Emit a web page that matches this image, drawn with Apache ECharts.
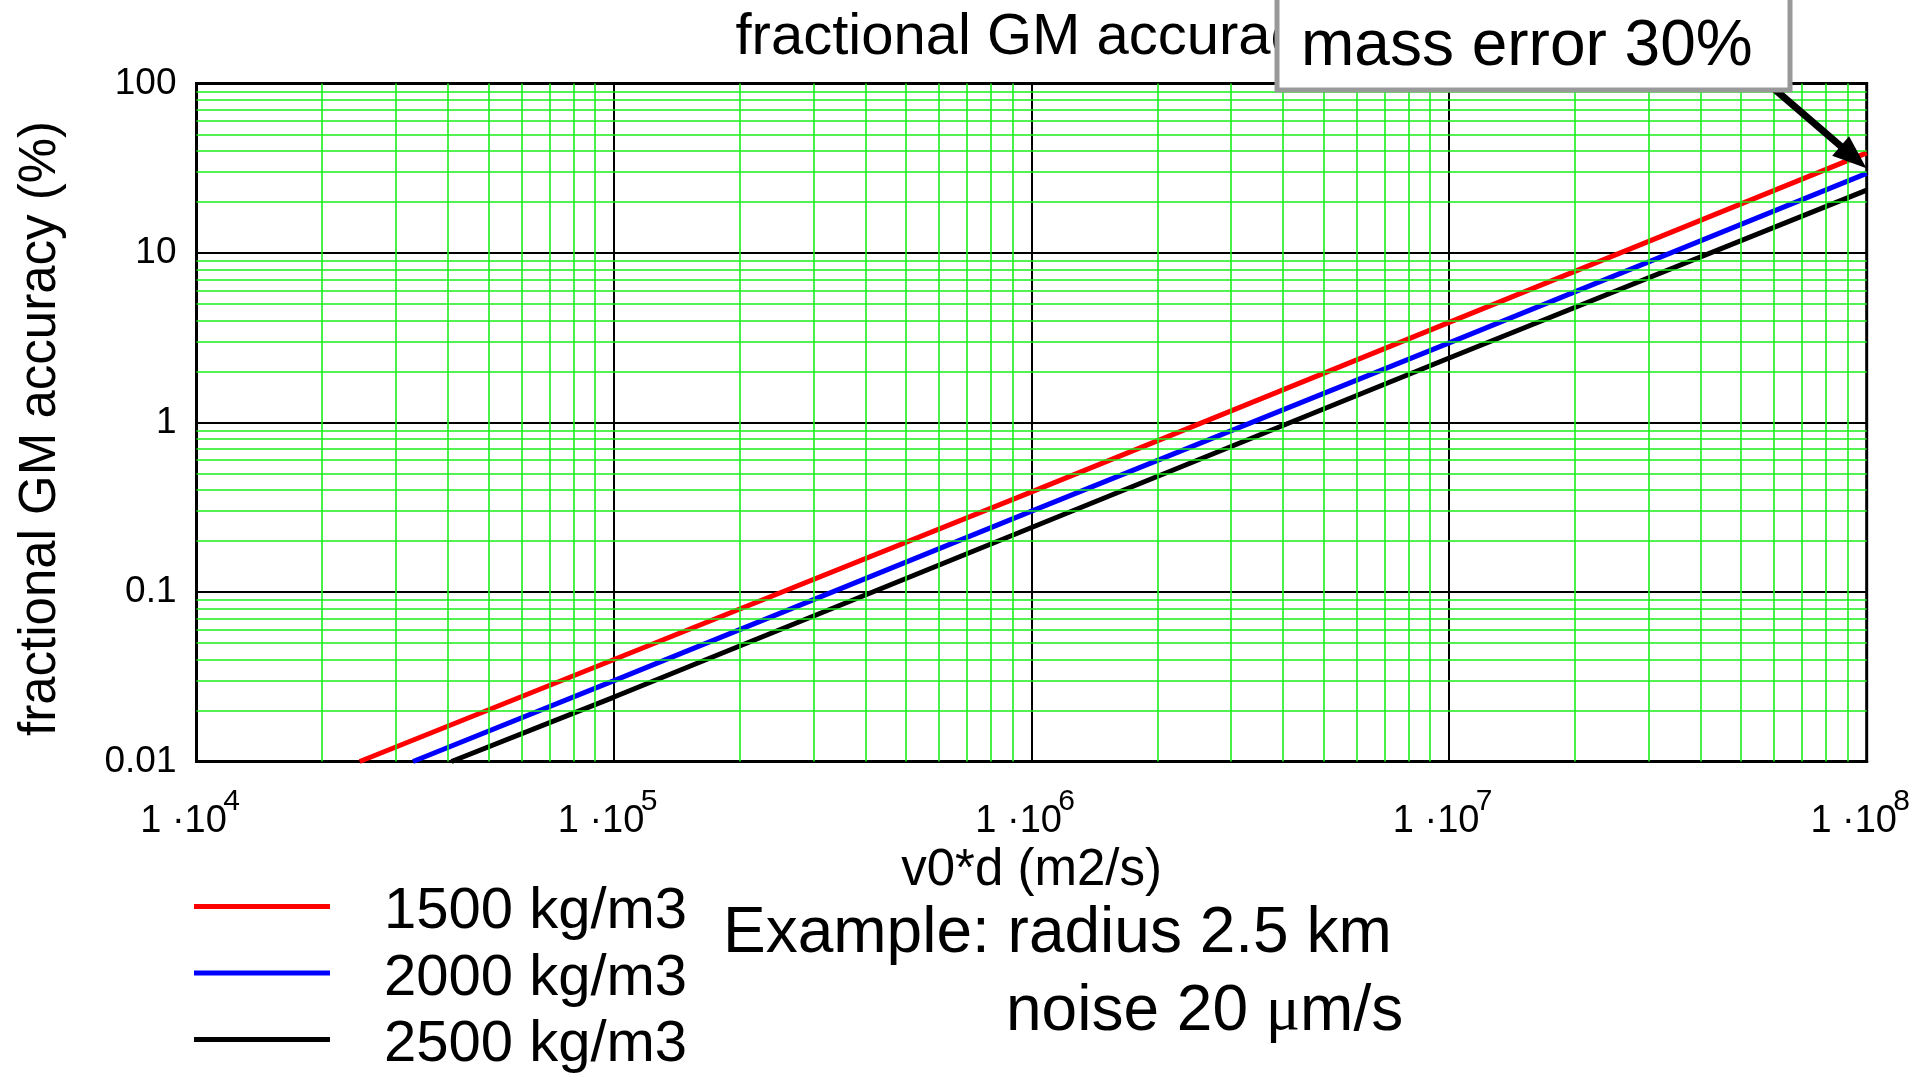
<!DOCTYPE html>
<html>
<head>
<meta charset="utf-8">
<title>fractional GM accuracy</title>
<script src="https://cdn.jsdelivr.net/npm/echarts@6/dist/echarts.min.js"></script>
<style>
html, body { margin: 0; padding: 0; background: #fff; }
#chart { width: 1926px; height: 1073px; }
</style>
</head>
<body>
<div id="chart"></div>
<script>
// curves: [v0*d (m2/s), fractional GM accuracy (%)]
var densityNames = ['1500 kg/m3', '2000 kg/m3', '2500 kg/m3'];
var lineColors = ['#ff0000', '#0000ff', '#000000'];
var red1500 = [[2.46e4, 0.01], [1e5, 0.04], [1e6, 0.39], [1e7, 3.9], [1e8, 39]];
var blue2000 = [[3.3e4, 0.01], [1e5, 0.03], [1e6, 0.3], [1e7, 2.95], [1e8, 29.5]];
var black2500 = [[4.08e4, 0.01], [1e5, 0.024], [1e6, 0.24], [1e7, 2.4], [1e8, 23.5]];

var xExponents = [4, 5, 6, 7, 8];
var yTickLabels = ['0.01', '0.1', '1', '10', '100'];
var minorSteps = [2, 3, 4, 5, 6, 7, 8, 9];

// "mass error 30%" callout arrow, data coords
var arrowFrom = [5.8e7, 100];
var arrowTo = [9.3e7, 36.8];

var font = 'Liberation Sans, Arial, Helvetica, sans-serif';

// green minor grid at 2..9 of every decade
var xMinor = [], yMinor = [];
for (var d = 4; d < 8; d++) {
  minorSteps.forEach(function (m) { xMinor.push(m * Math.pow(10, d)); });
}
for (var e = -2; e < 2; e++) {
  minorSteps.forEach(function (m) { yMinor.push(+(m * Math.pow(10, e)).toPrecision(3)); });
}
var minorLines = xMinor.map(function (v) { return { xAxis: v }; })
  .concat(yMinor.map(function (v) { return { yAxis: v }; }));

var chart = echarts.init(document.getElementById('chart'));

var curves = [red1500, blue2000, black2500].map(function (pts, i) {
  return {
    name: densityNames[i],
    type: 'line',
    data: pts,
    showSymbol: false,
    z: 3,
    color: lineColors[i],
    lineStyle: { color: lineColors[i], width: 5 },
    emphasis: { disabled: true }
  };
});

// one legend per row so nothing wraps at the bottom edge;
// the icon bar sits at the top of a taller box so the text lands a bit lower
var legendTops = [883, 949.5, 1016];
var legends = densityNames.map(function (name, i) {
  return {
    orient: 'vertical',
    left: 194,
    top: legendTops[i],
    padding: 0,
    itemWidth: 136,
    itemHeight: 16,
    icon: 'path://M0,0H136V5H0Z M0,16H136',
    itemStyle: { borderWidth: 0 },
    selectedMode: false,
    data: [name],
    textStyle: { fontSize: 58, fontFamily: font, color: '#000', lineHeight: 57, padding: [0, 0, 0, 49] }
  };
});

var logX = { type: 'log', logBase: 10, min: 1e4, max: 1e8, position: 'bottom' };

var option = {
  animation: false,
  backgroundColor: '#fff',
  grid: {
    left: 196.5, right: 58, top: 83.5, bottom: 311.5,
    show: true, borderColor: '#000', borderWidth: 3, backgroundColor: 'transparent'
  },
  legend: legends,
  xAxis: [
    Object.assign({}, logX, {
      axisLine: { show: true, lineStyle: { color: '#000', width: 3 } },
      axisTick: { show: false },
      splitLine: { show: true, lineStyle: { color: '#000', width: 2 } },
      axisLabel: {
        margin: 41,
        fontSize: 38,
        lineHeight: 38,
        fontFamily: font,
        color: '#000',
        padding: [0, 26, 0, 0],
        formatter: function () { return '1 \u00b710'; }
      },
      name: 'v0*d (m2/s)',
      nameLocation: 'middle',
      nameGap: 71,
      nameTextStyle: { fontSize: 51, fontFamily: font, color: '#000' }
    }),
    // exponents of the tick labels, raised and set right of the "1 ·10"
    Object.assign({}, logX, {
      axisLine: { show: false },
      axisTick: { show: false },
      splitLine: { show: false },
      axisLabel: {
        margin: 25,
        fontSize: 30,
        lineHeight: 30,
        fontFamily: font,
        color: '#000',
        padding: [0, 0, 0, 70],
        formatter: function (v) { return String(xExponents[Math.round(Math.log10(v)) - 4]); }
      }
    })
  ],
  yAxis: {
    type: 'log',
    logBase: 10,
    min: 0.01,
    max: 100,
    axisLine: { show: true, lineStyle: { color: '#000', width: 3 } },
    axisTick: { show: false },
    splitLine: { show: true, lineStyle: { color: '#000', width: 2 } },
    axisLabel: {
      fontSize: 37,
      fontFamily: font,
      color: '#000',
      margin: 20,
      padding: [18, 0, 0, 0],
      formatter: function (v) { return yTickLabels[Math.round(Math.log10(v)) + 2]; }
    },
    name: 'fractional GM accuracy (%)',
    nameLocation: 'middle',
    nameGap: 130,
    nameTextStyle: { fontSize: 51, fontFamily: font, color: '#000', padding: [0, 12, 0, 0] }
  },
  series: [
    {
      name: 'minor grid',
      type: 'line',
      data: [],
      z: 1,
      silent: true,
      markLine: {
        silent: true,
        symbol: 'none',
        label: { show: false },
        emphasis: { disabled: true },
        lineStyle: { color: '#1aee1a', width: 1.6, type: 'solid' },
        data: minorLines
      }
    }
  ].concat(curves).concat([
    {
      name: 'arrow',
      type: 'line',
      data: [],
      z: 5,
      silent: true,
      markLine: {
        silent: true,
        label: { show: false },
        emphasis: { disabled: true },
        lineStyle: { color: '#000', width: 7, type: 'solid' },
        data: [[
          { coord: arrowFrom, symbol: 'none' },
          { coord: arrowTo, symbol: 'triangle', symbolSize: [26, 34] }
        ]]
      }
    }
  ]),
  graphic: [
    {
      type: 'text', x: 1032, y: 38, z: 10,
      style: { text: 'fractional GM accuracy', fontSize: 58, fontFamily: font, fill: '#000', align: 'center', verticalAlign: 'middle' }
    },
    {
      type: 'rect', z: 11,
      shape: { x: 1277, y: -10, width: 513, height: 100 },
      style: { fill: '#fff', stroke: '#999', lineWidth: 5 }
    },
    {
      type: 'text', x: 1301, y: 47, z: 12,
      style: { text: 'mass error 30%', fontSize: 64, fontFamily: font, fill: '#000', align: 'left', verticalAlign: 'middle' }
    },
    {
      type: 'text', x: 723, y: 934, z: 10,
      style: { text: 'Example: radius 2.5 km', fontSize: 64, fontFamily: font, fill: '#000', align: 'left', verticalAlign: 'middle' }
    },
    {
      type: 'text', x: 1006, y: 1012, z: 10,
      style: {
        text: '{a|noise 20 }{m|\u03bc}{a|m/s}',
        align: 'left', verticalAlign: 'middle',
        rich: {
          a: { fontSize: 64, fontFamily: font, fill: '#000' },
          m: { fontSize: 64, fontFamily: 'Liberation Serif, serif', fill: '#000' }
        }
      }
    }
  ]
};

chart.setOption(option);
</script>
</body>
</html>
